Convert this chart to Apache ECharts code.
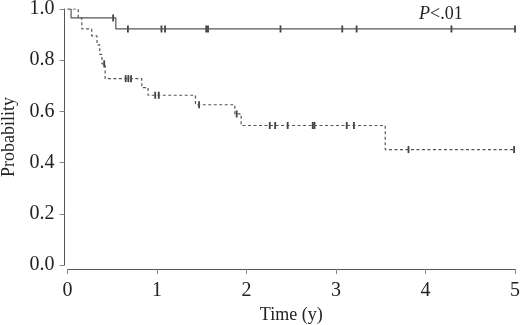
<!DOCTYPE html>
<html>
<head>
<meta charset="utf-8">
<script src="https://cdn.jsdelivr.net/npm/echarts@6/dist/echarts.min.js"></script>
<style>html,body{margin:0;padding:0;background:#fff}#c{width:520px;height:325px}</style>
</head>
<body>
<div id="c"></div>
<script>
// Group 1 (solid) step curve: [time, survival]
const solidTimes = [0, 0.04, 0.54, 5.0];
const solidSurv  = [1.0, 0.965, 0.922, 0.922];
const solidCensor = [0.51, 0.675, 1.05, 1.09, 1.55, 1.57, 2.38, 3.07, 3.23, 4.29, 5.0];

// Group 2 (dashed) step curve
const dashTimes = [0, 0.12, 0.16, 0.27, 0.33, 0.36, 0.385, 0.42, 0.83, 0.90, 1.43, 1.87, 1.94, 3.55, 5.0];
const dashSurv  = [1.0, 0.965, 0.922, 0.895, 0.86, 0.823, 0.786, 0.728, 0.693, 0.663, 0.626, 0.59, 0.545, 0.451, 0.451];
const dashCensor = [0.41, 0.65, 0.68, 0.71, 0.98, 1.02, 1.47, 1.89, 2.26, 2.32, 2.46, 2.74, 2.76, 3.12, 3.20, 3.81, 4.99];

const xTicks = [0, 1, 2, 3, 4, 5];
const yTicks = [0.0, 0.2, 0.4, 0.6, 0.8, 1.0];

function stepVal(times, surv, t) {
  let v = surv[0];
  for (let i = 0; i < times.length; i++) { if (times[i] <= t) v = surv[i]; }
  return v;
}
const pairs = (a, b) => a.map((t, i) => [t, b[i]]);

const font = 'Liberation Serif';
const chart = echarts.init(document.getElementById('c'), null, {renderer: 'canvas'});
chart.setOption({
  animation: false,
  backgroundColor: '#fff',
  title: {
    text: '{i|P}{n|<.01}',
    left: 414, top: 0,
    textStyle: {
      fontWeight: 'normal',
      rich: {
        i: {fontFamily: font, fontStyle: 'italic', fontWeight: 'normal', fontSize: 18, color: '#222'},
        n: {fontFamily: font, fontWeight: 'normal', fontSize: 18, color: '#222'}
      }
    }
  },
  grid: {left: 67.5, right: 5, top: 9, bottom: 60, containLabel: false, outerBoundsMode: 'none'},
  xAxis: {
    type: 'value', min: 0, max: 5, interval: 1, offset: 4,
    name: 'Time (y)', nameLocation: 'middle', nameGap: 34,
    nameTextStyle: {fontFamily: font, fontSize: 18, color: '#222'},
    axisLine: {show: true, onZero: false, lineStyle: {color: '#555', width: 1}},
    axisTick: {show: true, length: 5, lineStyle: {color: '#888'}},
    axisLabel: {fontFamily: font, fontSize: 20, color: '#222', margin: 12,
      formatter: v => xTicks.includes(v) ? String(v) : ''},
    splitLine: {show: false}
  },
  yAxis: {
    type: 'value', min: 0, max: 1, interval: 0.2, offset: 3,
    name: 'Probability', nameLocation: 'middle', nameGap: 45,
    nameTextStyle: {fontFamily: font, fontSize: 18, color: '#222'},
    axisLine: {show: true, onZero: false, lineStyle: {color: '#555', width: 1}},
    axisTick: {show: true, length: 5, lineStyle: {color: '#888'}},
    axisLabel: {fontFamily: font, fontSize: 20, color: '#222', margin: 10,
      formatter: v => v.toFixed(1)},
    splitLine: {show: false}
  },
  series: [
    {
      type: 'line', step: 'end', data: pairs(solidTimes, solidSurv),
      symbol: 'none', lineStyle: {color: '#555', width: 1.2, type: 'solid'}
    },
    {
      type: 'line', step: 'end', data: pairs(dashTimes, dashSurv),
      symbol: 'none', lineStyle: {color: '#555', width: 1.2, type: [3, 2.5]}
    },
    {
      type: 'scatter', symbol: 'rect', symbolSize: [1.8, 7],
      itemStyle: {color: '#111'},
      data: solidCensor.map(t => [t, stepVal(solidTimes, solidSurv, t)])
    },
    {
      type: 'scatter', symbol: 'rect', symbolSize: [1.8, 7],
      itemStyle: {color: '#111'},
      data: dashCensor.map(t => [t, stepVal(dashTimes, dashSurv, t)])
    }
  ]
});
</script>
</body>
</html>
